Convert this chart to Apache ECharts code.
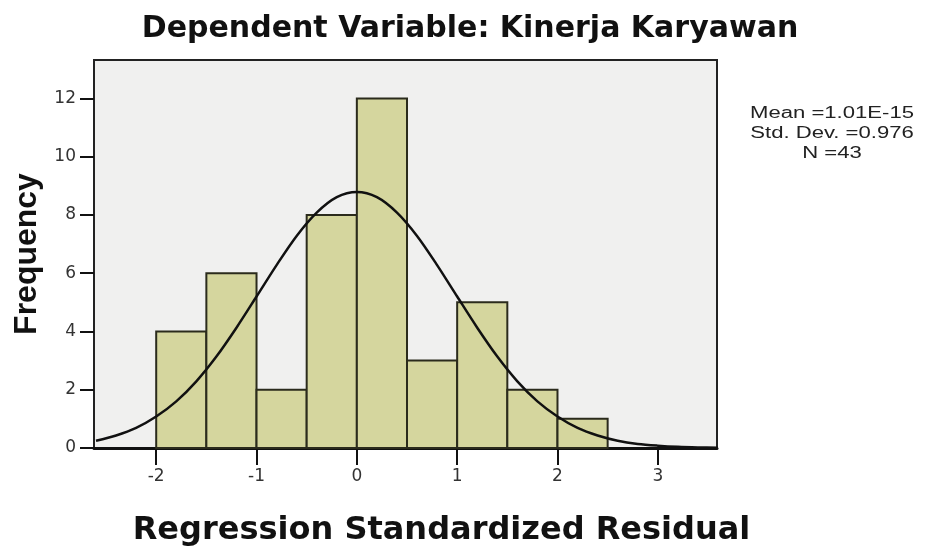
<!DOCTYPE html>
<html><head><meta charset="utf-8">
<script src="https://cdn.jsdelivr.net/npm/echarts@6/dist/echarts.min.js"></script>
<style>html,body{margin:0;padding:0;background:#fff}#c{width:929px;height:552px}</style>
</head><body><div id="c"></div>
<script>
// Histogram bins (bin start, bin end, frequency)
var binStart = [-2.0, -1.5, -1.0, -0.5, 0.0, 0.5, 1.0, 1.5, 2.0];
var binEnd   = [-1.5, -1.0, -0.5, 0.0, 0.5, 1.0, 1.5, 2.0, 2.5];
var counts   = [4, 6, 2, 8, 12, 3, 5, 2, 1];
// Normal curve points
var curveX = [-2.6,-2.4,-2.2,-2.0,-1.8,-1.6,-1.4,-1.2,-1.0,-0.8,-0.6,-0.4,-0.2,0.0,0.2,0.4,0.6,0.8,1.0,1.2,1.4,1.6,1.8,2.0,2.2,2.4,2.6,2.8,3.0,3.2,3.4,3.6];
var curveY = [0.25,0.43,0.69,1.08,1.60,2.29,3.14,4.13,5.20,6.28,7.28,8.08,8.61,8.79,8.61,8.08,7.28,6.28,5.20,4.13,3.14,2.29,1.60,1.08,0.69,0.43,0.25,0.14,0.08,0.04,0.02,0.01];
var xTicks = [-2, -1, 0, 1, 2, 3];
var yTicks = [0, 2, 4, 6, 8, 10, 12];
var titleText = 'Dependent Variable: Kinerja Karyawan';
var xTitle = 'Regression Standardized Residual';
var yTitle = 'Frequency';
var statsLines = ['Mean =1.01E-15', 'Std. Dev. =0.976', 'N =43'];

var chart = echarts.init(document.getElementById('c'));
var font = '"Liberation Sans", Arial, sans-serif';
var wide = '"DejaVu Sans", sans-serif';
var barData = binStart.map(function(s, i){ return [s, binEnd[i], counts[i]]; });
var curveData = curveX.map(function(x, i){ return [x, curveY[i]]; });

chart.setOption({
  animation: false,
  backgroundColor: '#ffffff',
  title: {
    text: titleText, left: 465, top: 9, textAlign: 'center',
    textStyle: { fontFamily: wide, fontWeight: 'bold', fontSize: 30, color: '#111' }
  },
  grid: { left: 94, right: 212, top: 60, bottom: 104, show: true, containLabel: false,
          outerBoundsMode: 'none',
          backgroundColor: '#f0f0ef', borderColor: '#222', borderWidth: 2 },
  xAxis: {
    type: 'value', min: -2.62, max: 3.59,
    name: xTitle, nameLocation: 'middle', nameGap: 67,
    nameTextStyle: { fontFamily: wide, fontWeight: 'bold', fontSize: 32, color: '#111', padding: [0, 0, 0, 72] },
    axisLine: { show: true, onZero: false, lineStyle: { color: '#111', width: 3 } },
    axisTick: { show: true, customValues: xTicks, length: 17, lineStyle: { color: '#111', width: 2 } },
    axisLabel: { customValues: xTicks, margin: 20, fontFamily: wide, fontSize: 17, color: '#333' },
    splitLine: { show: false }
  },
  yAxis: {
    type: 'value', min: 0, max: 13.32,
    name: yTitle, nameLocation: 'middle', nameGap: 50, nameRotate: 90,
    nameTextStyle: { fontFamily: font, fontWeight: 'bold', fontSize: 32, color: '#111' },
    axisLine: { show: true, onZero: false, lineStyle: { color: '#222', width: 2 } },
    axisTick: { show: true, customValues: yTicks, length: 14, lineStyle: { color: '#111', width: 2 } },
    axisLabel: { customValues: yTicks, margin: 18, fontFamily: wide, fontSize: 17, color: '#333' },
    splitLine: { show: false }
  },
  series: [
    {
      type: 'custom',
      data: barData,
      encode: { x: [0, 1], y: 2 },
      renderItem: function(params, api){
        var p0 = api.coord([api.value(0), api.value(2)]);
        var p1 = api.coord([api.value(1), 0]);
        return {
          type: 'rect',
          shape: { x: p0[0], y: p0[1], width: p1[0] - p0[0], height: p1[1] - p0[1] },
          style: { fill: '#d5d69e', stroke: '#2b2b1c', lineWidth: 2 }
        };
      },
      z: 2
    },
    {
      type: 'line', data: curveData, smooth: 0.3, symbol: 'none',
      lineStyle: { color: '#111', width: 2.5 }, z: 3
    }
  ],
  graphic: [
    { type: 'text', x: 832, y: 104, scaleX: 1.38, style: {
      text: statsLines.join('\n'), fontFamily: font, fontSize: 16, lineHeight: 20,
      fill: '#222', textAlign: 'center' } }
  ]
});
</script></body></html>
